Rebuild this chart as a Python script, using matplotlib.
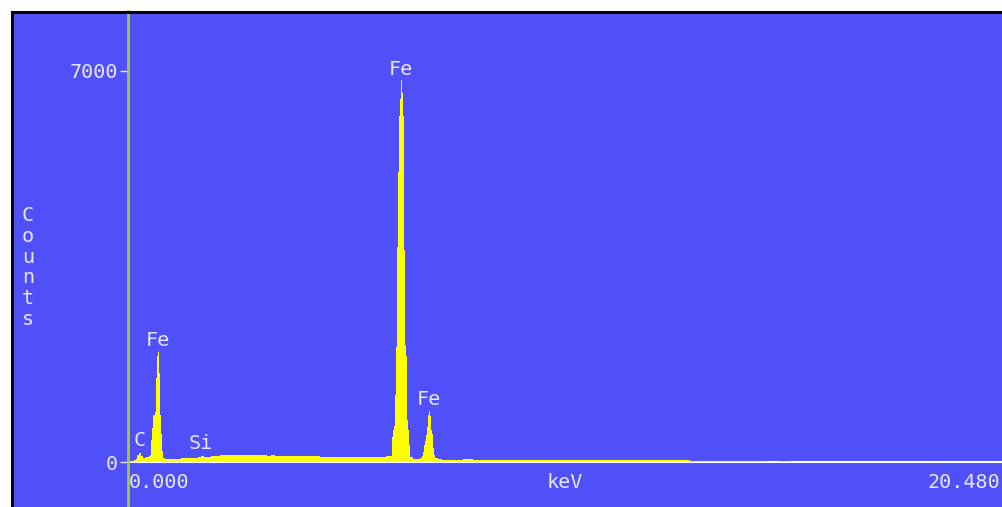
import matplotlib
matplotlib.use('Agg')
import matplotlib.pyplot as plt
from matplotlib.patches import Rectangle

# Spectrum (keV, counts)
energy_kev = [
    0.00, 0.10, 0.16, 0.20, 0.24, 0.28, 0.32, 0.36, 0.40, 0.44, 0.48,
    0.50, 0.52, 0.54, 0.56, 0.58, 0.60, 0.62, 0.64, 0.66, 0.68, 0.70,
    0.72, 0.74, 0.76, 0.78, 0.80, 0.82, 0.84,
    0.90, 1.00, 1.10, 1.20, 1.30, 1.40, 1.50, 1.60, 1.70, 1.74, 1.80,
    1.90, 2.00, 2.10, 2.20, 2.30, 2.40, 2.50, 2.60, 2.70, 2.80, 2.90,
    3.00, 3.10, 3.20, 3.30, 3.40, 3.50, 3.60, 3.70, 3.80, 3.90, 4.00,
    4.20, 4.40, 4.60, 4.80, 5.00, 5.20, 5.40, 5.60, 5.80, 6.00, 6.10,
    6.18, 6.20, 6.22, 6.24, 6.26, 6.28, 6.30, 6.32, 6.34, 6.36, 6.38,
    6.40, 6.42, 6.44, 6.46, 6.48, 6.50, 6.52, 6.54, 6.56, 6.58, 6.60,
    6.62, 6.70, 6.80, 6.88,
    6.90, 6.92, 6.94, 6.96, 6.98, 7.00, 7.02, 7.04, 7.06, 7.08, 7.10,
    7.12, 7.14, 7.16, 7.18, 7.20,
    7.30, 7.40, 7.50, 7.60, 7.70, 7.80, 7.90, 8.00, 8.05, 8.10, 8.20,
    8.40, 8.60, 8.80, 9.00, 9.50, 10.0, 10.5, 11.0, 11.5, 12.0, 12.5,
    13.0, 13.3, 13.6, 13.9, 14.2, 14.5, 14.8, 15.1, 15.4, 15.6, 16.0,
    20.48,
]
counts = [
    0, 10, 40, 60, 130, 165, 110, 70, 75, 85, 95,
    100, 130, 200, 400, 600, 840, 850, 900, 1500, 1800, 1900,
    1975, 1600, 850, 500, 200, 110, 80,
    60, 55, 62, 58, 66, 63, 72, 75, 90, 115, 88,
    96, 105, 112, 118, 122, 128, 124, 131, 126, 129, 122,
    125, 118, 121, 114, 117, 110, 113, 106, 109, 103, 105,
    99, 101, 95, 97, 92, 94, 89, 91, 93, 96, 100,
    110, 450, 580, 650, 1200, 2050, 3850, 3950, 5200, 6200, 6500,
    6830, 6600, 6200, 4000, 3800, 2100, 1900, 750, 580, 300, 120,
    90, 60, 50, 70,
    100, 180, 300, 380, 480, 560, 620, 850, 910, 820, 580,
    500, 350, 250, 120, 70,
    48, 42, 40, 38, 40, 37, 45, 62, 55, 40, 38,
    37, 36, 36, 35, 35, 34, 34, 33, 33, 32, 31,
    30, 18, 24, 14, 20, 10, 16, 6, 12, 0, 0,
    0,
]

# peak labels
peak_names = ['C', 'Fe', 'Si', 'Fe', 'Fe']
peak_kev = [0.28, 0.71, 1.70, 6.38, 7.05]
label_counts = [376, 2184, 340, 7026, 1119]

y_ticks = [0, 7000]
x_end = 20.48

BLUE = '#5050FA'
TXT = '#E6E6FF'
FONT = 'DejaVu Sans Mono'
FS = 14.5

W, H = 1003, 507
fig = plt.figure(figsize=(W / 100, H / 100), dpi=100)
fig.patch.set_facecolor('white')

# pixel anchors of the plot
x0_px, px_per_kev = 128, 42.72
y0_px, y7000_px = 462, 71
cpp = 7000 / (y0_px - y7000_px)
left_px, top_px = 12.5, 11.5

ax = fig.add_axes([left_px / W, 0, (W - left_px) / W, (H - top_px) / H])
ax.set_facecolor(BLUE)
ax.set_xlim((left_px - x0_px) / px_per_kev, (W - x0_px) / px_per_kev)
ax.set_ylim(-(H - y0_px) * cpp, (y0_px - top_px) * cpp)

for s in ['top', 'right']:
    ax.spines[s].set_visible(False)
ax.spines['left'].set_position(('data', 0))
ax.spines['left'].set_color('#A8C832')
ax.spines['left'].set_linewidth(2)
ax.spines['left'].set_zorder(4)
ax.spines['bottom'].set_position(('data', 0))
ax.spines['bottom'].set_bounds(0, x_end)
ax.spines['bottom'].set_color('white')
ax.spines['bottom'].set_linewidth(1.5)
ax.spines['bottom'].set_zorder(1)

ax.fill_between(energy_kev, counts, 0, step='mid', color='#FFFF00', lw=0, zorder=3)

ax.set_xticks([])
ax.set_yticks(y_ticks)
ax.set_yticklabels([str(v) for v in y_ticks], fontfamily=FONT, fontsize=FS, color=TXT)
ax.tick_params(axis='y', direction='out', length=6, width=1, color=TXT, pad=1)

for name, e, c in zip(peak_names, peak_kev, label_counts):
    ax.text(e, c, name, ha='center', va='center', fontfamily=FONT, fontsize=FS, color=TXT, zorder=5)

ylab = -(482.5 - y0_px) * cpp
ax.text(0.02, ylab, '0.000', ha='left', va='center', fontfamily=FONT, fontsize=FS, color=TXT)
ax.text(10.23, ylab, 'keV', ha='center', va='center', fontfamily=FONT, fontsize=FS, color=TXT)
ax.text(20.41, ylab, '20.480', ha='right', va='center', fontfamily=FONT, fontsize=FS, color=TXT)

ax.text((28 - x0_px) / px_per_kev, (y0_px - 267.5) * cpp, '\n'.join('Counts'),
        ha='center', va='center', fontfamily=FONT, fontsize=FS, color=TXT, linespacing=1.12)

# black frame round the panel
fig.add_artist(Rectangle((left_px / W, -0.1), 1.2, (H - top_px) / H + 0.1,
                         transform=fig.transFigure, fill=False, ec='black', lw=2.2, zorder=10))

fig.savefig('out.png', dpi=100, facecolor=fig.get_facecolor())
